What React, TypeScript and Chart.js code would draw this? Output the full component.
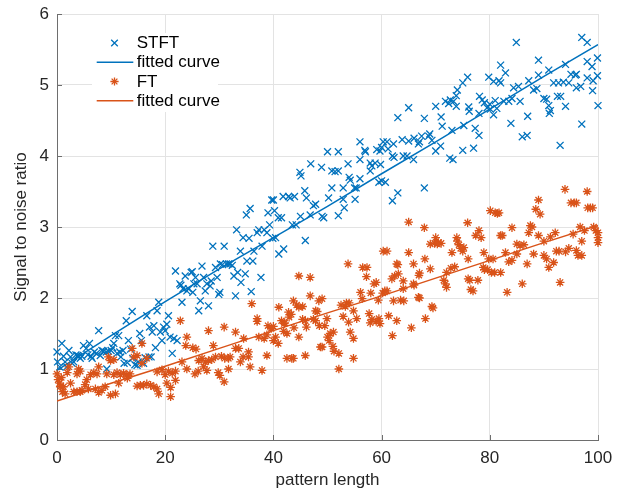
import React, { useEffect, useRef } from 'react';
import { Chart, registerables } from 'chart.js';

Chart.register(...registerables);

const BLUE = '#0072BD';
const ORANGE = '#D95319';
const AXIS_TEXT = '#262626';
const FONT = '"Liberation Sans", Arial, Helvetica, sans-serif';

const xTicks = [0, 20, 40, 60, 80, 100];
const yTicks = [0, 1, 2, 3, 4, 5, 6];
const xTitle = 'pattern length';
const yTitle = 'Signal to noise ratio';
const legendLabels = ['STFT', 'fitted curve', 'FT', 'fitted curve'];

// STFT measurements (pattern length, SNR)
const stftPoints: [number, number][] = [
  [0.0, 1.24], [0.1, 1.10], [0.5, 1.03], [0.9, 1.36], [1.2, 1.18], [1.5, 1.10], [1.8, 1.03], [2.2, 1.26],
  [2.5, 1.17], [2.8, 1.08], [3.1, 1.10], [3.5, 1.20], [3.8, 1.19], [4.0, 1.18], [4.3, 1.15], [4.6, 1.18],
  [4.9, 1.33], [5.4, 1.29], [5.7, 1.20], [6.0, 1.36], [6.3, 1.18], [6.5, 1.15], [6.9, 1.24], [7.3, 1.22],
  [7.7, 1.54], [8.0, 1.19], [8.3, 1.26], [8.6, 1.25], [9.1, 1.24], [9.2, 1.00], [9.5, 1.25], [10.0, 1.26],
  [10.3, 1.30], [10.5, 1.36], [10.8, 1.47], [11.1, 1.22], [11.4, 1.47], [11.6, 1.24], [11.8, 1.17], [12.2, 1.26],
  [12.4, 1.08], [12.8, 1.68], [13.0, 1.09], [13.2, 1.40], [13.6, 1.28], [13.9, 1.81], [14.0, 1.15], [14.4, 1.06],
  [14.8, 1.05], [15.0, 1.10], [15.3, 1.50], [15.6, 1.40], [16.0, 1.08], [16.3, 1.16], [16.6, 1.75], [17.0, 1.17],
  [17.1, 1.59], [17.4, 1.17], [17.6, 1.52], [17.9, 1.61], [18.2, 1.30], [18.5, 1.82], [18.8, 1.94], [19.1, 1.52],
  [19.4, 1.40], [19.7, 1.59], [20.0, 1.54],
  [20.3, 1.63], [20.6, 1.75], [20.9, 1.45], [21.3, 1.22], [21.6, 1.43], [21.9, 2.38], [22.2, 1.40], [22.7, 2.20],
  [22.9, 2.18], [23.1, 1.94], [23.3, 2.13], [23.7, 2.31], [24.0, 2.10], [24.3, 2.13], [24.8, 2.36], [25.0, 2.37],
  [25.1, 2.08], [25.3, 2.20], [25.6, 2.29], [25.9, 2.20], [26.2, 1.82], [26.5, 1.96], [26.8, 2.45], [27.1, 2.29],
  [27.4, 2.10], [27.7, 2.20], [28.0, 1.89], [28.3, 2.17], [28.5, 2.24], [28.8, 2.73], [29.3, 2.43], [29.6, 2.29],
  [29.9, 2.05], [30.1, 2.08], [30.2, 2.48], [30.6, 2.47], [30.9, 2.73], [31.3, 2.48], [31.7, 2.48], [32.0, 2.48],
  [32.4, 2.46], [32.7, 2.31], [33.0, 2.03], [33.2, 2.96], [33.4, 2.36], [33.9, 2.66], [34.0, 2.22], [34.4, 2.85],
  [34.8, 2.34], [35.0, 3.17], [35.1, 2.52], [35.5, 2.84], [35.7, 3.26], [35.9, 2.09], [36.2, 2.52], [36.4, 2.66],
  [37.0, 2.92], [37.3, 2.96], [37.7, 2.29], [37.9, 2.73], [38.3, 2.96], [38.8, 2.92], [39.0, 3.20], [39.3, 3.03],
  [39.7, 3.38], [39.9, 2.84],
  [40.0, 3.38], [40.2, 3.23], [40.4, 2.85], [40.9, 3.13], [41.0, 2.62], [41.5, 3.13], [41.9, 2.69], [41.8, 3.43],
  [42.8, 3.43], [43.1, 3.41], [43.5, 3.03], [43.9, 3.43], [44.2, 3.03], [45.0, 3.15], [44.9, 3.77], [45.1, 3.72],
  [45.8, 3.51], [45.9, 2.81], [46.1, 3.41], [46.8, 3.17], [46.9, 3.89], [47.4, 3.30], [47.8, 3.32], [48.9, 3.84],
  [49.0, 3.15], [49.3, 3.13], [50.0, 4.06], [50.2, 3.41], [50.8, 3.55], [50.8, 3.79], [51.4, 3.78], [52.0, 3.79],
  [52.0, 4.06], [52.0, 3.16], [52.9, 3.55], [52.9, 3.39], [53.1, 3.27], [53.8, 3.89], [54.0, 3.70], [54.2, 3.66],
  [55.0, 3.55], [55.1, 3.39], [55.3, 3.55], [56.0, 3.95], [56.0, 3.68], [56.0, 4.20], [56.9, 4.08], [57.0, 4.06],
  [57.9, 3.79], [57.9, 3.90], [58.2, 3.86], [58.8, 3.90], [59.1, 4.09], [59.5, 3.63], [59.7, 4.07], [60.0, 3.65],
  [60.3, 4.20],
  [59.8, 3.88], [60.0, 4.12], [60.7, 3.63], [61.0, 4.20], [61.2, 4.10], [62.0, 3.37], [62.0, 4.00], [62.3, 3.98],
  [62.2, 4.17], [63.0, 4.54], [63.0, 3.48], [63.8, 4.23], [64.0, 4.00], [64.7, 4.00], [65.0, 4.68], [65.0, 4.21],
  [65.9, 3.95], [66.0, 4.25], [66.8, 4.17], [67.0, 4.20], [67.4, 4.28], [67.9, 4.53], [67.9, 3.55], [68.7, 4.28],
  [68.9, 4.31], [69.3, 4.22], [70.0, 4.70], [70.0, 4.07], [70.9, 4.14], [71.0, 4.55], [71.2, 4.42], [71.8, 4.77],
  [72.4, 4.74], [72.6, 3.97], [72.7, 4.79], [73.0, 4.36], [73.2, 3.95], [73.3, 4.77], [73.8, 4.85], [73.8, 4.70],
  [74.0, 4.93], [75.0, 5.03], [75.0, 4.08], [75.2, 4.43], [75.9, 5.11], [76.1, 4.69], [76.2, 4.63], [77.0, 4.11],
  [77.3, 4.39], [78.0, 4.60], [78.0, 4.29], [78.1, 4.84], [78.6, 4.79], [79.0, 4.75], [79.5, 4.68], [79.8, 5.11],
  [80.0, 4.73],
  [80.1, 4.66], [80.7, 5.05], [80.7, 4.58], [81.0, 4.78], [81.3, 4.67], [81.7, 5.06], [82.0, 5.28], [82.0, 5.03],
  [82.6, 4.77], [82.9, 5.17], [83.5, 4.77], [83.9, 4.46], [84.1, 4.81], [84.4, 4.96], [84.9, 5.60], [85.3, 4.98],
  [85.6, 4.77], [86.0, 4.27], [86.9, 4.29], [87.0, 4.56], [87.2, 5.06], [88.1, 4.93], [88.7, 4.95], [89.0, 5.35],
  [89.0, 5.14], [90.0, 4.81], [90.5, 4.80], [90.9, 5.21], [90.9, 4.71], [91.2, 4.64], [91.0, 4.60], [91.8, 5.03],
  [92.5, 4.84], [92.7, 5.03], [93.1, 4.84], [93.0, 4.15], [93.6, 5.04], [94.0, 5.29], [94.0, 4.70], [94.6, 5.03],
  [95.0, 5.15], [95.8, 5.14], [96.0, 5.15], [96.0, 4.96], [96.8, 4.98], [97.0, 4.45], [97.0, 5.67], [98.0, 5.33],
  [98.0, 5.10], [98.0, 5.60], [98.9, 5.26], [99.0, 4.92], [99.1, 5.06], [99.9, 5.38], [99.9, 5.13], [100.0, 4.71],
];

// FT measurements (pattern length, SNR)
const ftPoints: [number, number][] = [
  [0.0, 0.93], [0.2, 0.85], [0.5, 0.80], [0.6, 0.75], [0.8, 0.88], [1.0, 0.68], [1.2, 0.75], [1.5, 0.65],
  [1.9, 0.95], [2.2, 1.03], [2.5, 0.80], [3.1, 0.68], [3.7, 0.68], [3.7, 0.93], [4.0, 1.00], [4.3, 0.97],
  [4.3, 0.68], [4.6, 0.70], [5.2, 0.78], [5.5, 0.85], [5.8, 0.72], [6.2, 0.92], [6.8, 0.95], [7.4, 0.93],
  [7.1, 0.72], [7.7, 1.03], [7.7, 0.67], [8.3, 0.70], [8.9, 0.75], [9.2, 0.93], [9.5, 1.17], [9.9, 0.63],
  [9.9, 1.12], [10.5, 1.13], [10.5, 0.92], [10.8, 0.65], [11.1, 0.95], [11.4, 0.80], [11.7, 0.92], [12.3, 0.94],
  [13.0, 0.87], [12.9, 0.92], [13.5, 0.93], [13.9, 1.29], [14.2, 1.17], [14.8, 1.19], [14.8, 0.76], [15.4, 0.77],
  [15.7, 1.36], [15.7, 1.08], [16.0, 0.77], [16.6, 0.79], [16.6, 1.15], [17.3, 0.77], [17.9, 0.75], [18.5, 0.96],
  [18.5, 0.72], [18.8, 0.65], [19.4, 0.99], [20.0, 0.92], [20.3, 0.80], [20.6, 0.97], [21.0, 0.61], [21.0, 0.74],
  [21.3, 0.94], [21.9, 0.84], [21.9, 0.97],
  [22.8, 1.68], [23.1, 1.10], [24.0, 1.45], [24.0, 1.00], [23.8, 1.33], [25.1, 1.30], [25.7, 1.28], [25.5, 0.93],
  [26.1, 0.97], [26.2, 1.12], [26.8, 1.15], [27.4, 1.10], [27.1, 1.03], [28.0, 1.54], [28.0, 1.12], [27.7, 0.98],
  [28.6, 1.13], [28.9, 1.33], [29.3, 1.17], [29.8, 0.95], [30.1, 0.91], [30.4, 1.18], [30.9, 1.59], [30.9, 0.82],
  [31.0, 1.15], [31.7, 1.15], [31.7, 1.00], [32.0, 1.17], [33.0, 1.29], [33.0, 1.52], [33.6, 1.29], [33.9, 1.10],
  [34.5, 1.43], [34.4, 1.17], [35.4, 1.17], [35.4, 1.24], [35.7, 1.03], [36.0, 1.92], [37.0, 1.71], [37.0, 1.67],
  [37.3, 1.45], [37.9, 0.98], [38.3, 1.43], [38.8, 1.19], [38.8, 1.48], [39.0, 1.61], [39.6, 1.57], [40.0, 1.40],
  [40.0, 1.60], [40.4, 1.45], [40.9, 1.36], [41.0, 1.87], [41.5, 1.68], [41.9, 1.53], [42.0, 1.64], [42.1, 1.65],
  [42.5, 1.15], [42.5, 1.50], [42.8, 1.80], [42.9, 1.73], [43.3, 1.77], [43.4, 1.15], [43.7, 1.96], [43.7, 1.15],
  [43.8, 1.58], [44.3, 1.90], [44.7, 1.87], [44.7, 1.45], [44.7, 2.31], [45.4, 1.88], [45.4, 1.70], [45.9, 1.19],
  [45.9, 1.68], [46.1, 1.59], [46.8, 2.29], [46.8, 2.03], [47.4, 1.70], [47.8, 1.82], [47.8, 1.68], [48.1, 1.81],
  [48.4, 1.96], [48.5, 1.61], [48.7, 1.31], [49.0, 1.99], [49.0, 1.31], [49.5, 1.61], [49.9, 1.71], [50.0, 1.45],
  [50.3, 1.40], [50.5, 1.50], [51.0, 1.32], [51.1, 1.52], [51.2, 1.25], [52.1, 1.22], [52.1, 1.00], [52.5, 1.90],
  [52.9, 1.74], [53.3, 1.88], [53.5, 1.93], [53.8, 2.48], [53.9, 1.66], [54.0, 1.93], [54.2, 1.52], [54.8, 1.82],
  [54.8, 1.43], [54.8, 1.15], [55.4, 1.71], [56.1, 2.08], [56.4, 1.99], [56.5, 2.43], [57.2, 2.30], [57.3, 2.43],
  [57.7, 1.78], [57.9, 1.65], [58.0, 2.07], [58.2, 1.70], [58.6, 2.20], [59.0, 2.22], [59.0, 1.67], [59.4, 1.97],
  [59.5, 1.71], [59.7, 1.64], [60.3, 2.66],
  [60.2, 2.07], [60.6, 2.10], [61.0, 2.66], [61.0, 2.10], [61.3, 1.75], [61.9, 2.27], [62.0, 1.47], [62.2, 1.96],
  [62.4, 2.31], [62.8, 2.48], [62.8, 1.68], [63.0, 2.47], [63.1, 2.34], [63.5, 1.97], [64.0, 2.24], [64.0, 2.13],
  [64.1, 1.96], [65.0, 2.64], [65.0, 3.07], [65.5, 1.58], [65.9, 2.48], [65.9, 2.20], [66.0, 2.18], [66.8, 2.01],
  [66.9, 2.32], [67.0, 2.35], [67.0, 2.00], [67.9, 2.99], [68.0, 2.55], [68.1, 1.71], [69.0, 2.41], [69.0, 2.76],
  [69.3, 1.88], [69.5, 1.86], [69.8, 2.77], [70.0, 2.85], [70.3, 2.76], [70.5, 2.78], [71.0, 2.77], [71.5, 2.25],
  [71.8, 2.20], [72.0, 2.15], [72.0, 2.36], [72.8, 2.42], [73.0, 2.64], [73.5, 2.44], [73.9, 2.85], [74.0, 2.80],
  [74.3, 2.75], [74.6, 2.70], [75.0, 2.66], [75.2, 2.71], [75.9, 3.06], [76.0, 2.27], [76.0, 2.55], [76.3, 2.25],
  [76.5, 2.12], [76.9, 2.10], [77.4, 2.88], [77.8, 2.25], [78.0, 2.95], [78.4, 2.85], [78.8, 2.43], [78.9, 2.64],
  [79.0, 2.40], [79.6, 2.40], [79.8, 2.55], [80.1, 3.23],
  [80.3, 2.36], [80.6, 2.55], [80.9, 2.36], [81.0, 3.20], [81.4, 3.19], [81.7, 3.20], [82.0, 2.88], [82.3, 2.88],
  [82.0, 2.36], [82.9, 2.64], [83.2, 2.08], [83.5, 2.51], [84.1, 2.99], [84.1, 2.53], [85.0, 2.76], [85.0, 2.62],
  [85.6, 2.74], [86.0, 2.20], [86.3, 2.75], [86.9, 2.48], [87.2, 2.92], [87.5, 3.02], [87.8, 3.00], [88.1, 2.62],
  [88.5, 3.25], [89.0, 3.38], [89.0, 2.88], [89.3, 3.18], [90.0, 2.80], [90.0, 2.60], [90.5, 2.55], [90.9, 2.43],
  [91.2, 2.86], [91.8, 2.50], [92.1, 2.92], [92.3, 2.66], [92.8, 2.66], [93.0, 2.22], [93.9, 3.53], [94.0, 2.65],
  [94.6, 2.70], [95.0, 3.34], [95.4, 2.90], [95.6, 3.34], [96.0, 2.67], [96.0, 3.34], [96.3, 2.60], [96.7, 3.00],
  [97.0, 2.80], [97.0, 2.60], [97.5, 2.95], [98.0, 3.50], [98.1, 3.27], [98.6, 3.27], [99.0, 3.27], [99.2, 3.00],
  [99.6, 2.95], [100.0, 2.85], [100.0, 2.92], [100.0, 2.78],
];

// fitted curves sampled along pattern length
const fitX = [0, 10, 20, 30, 40, 50, 60, 70, 80, 90, 100];
const stftFit = [0.98, 1.47, 1.95, 2.41, 2.85, 3.29, 3.75, 4.20, 4.66, 5.12, 5.57];
const ftFit = [0.55, 0.80, 1.04, 1.29, 1.54, 1.79, 2.03, 2.28, 2.53, 2.78, 3.02];

const toXY = (pts: [number, number][]) => pts.map(([x, y]) => ({ x, y }));
const fitXY = (ys: number[]) => fitX.map((x, i) => ({ x, y: ys[i] }));

const inwardTicks = {
  id: 'inwardTicks',
  beforeDatasetsDraw(chart: any) {
    const { ctx, chartArea } = chart;
    const xs = chart.scales.x;
    const ys = chart.scales.y;
    ctx.save();
    ctx.strokeStyle = '#6e6e6e';
    ctx.lineWidth = 1;
    ctx.beginPath();
    xTicks.forEach((v) => {
      const px = Math.round(xs.getPixelForValue(v)) + 0.5;
      ctx.moveTo(px, chartArea.bottom);
      ctx.lineTo(px, chartArea.bottom - 5);
    });
    yTicks.forEach((v) => {
      const py = Math.round(ys.getPixelForValue(v)) + 0.5;
      ctx.moveTo(chartArea.left, py);
      ctx.lineTo(chartArea.left + 5, py);
    });
    ctx.stroke();
    ctx.restore();
  },
};

const matlabLegend = {
  id: 'matlabLegend',
  afterDatasetsDraw(chart: any) {
    const { ctx, chartArea } = chart;
    const L = chartArea.left;
    const T = chartArea.top;
    ctx.save();
    ctx.fillStyle = '#ffffff';
    ctx.fillRect(L + 35, T + 19, 126, 79);
    const rows = [T + 29, T + 48.3, T + 67.5, T + 86.7];
    const mx = L + 57.5;
    ctx.lineWidth = 1.3;
    ctx.strokeStyle = BLUE;
    ctx.beginPath();
    ctx.moveTo(mx - 3.3, rows[0] - 3.3); ctx.lineTo(mx + 3.3, rows[0] + 3.3);
    ctx.moveTo(mx - 3.3, rows[0] + 3.3); ctx.lineTo(mx + 3.3, rows[0] - 3.3);
    ctx.stroke();
    ctx.lineWidth = 1.5;
    ctx.beginPath();
    ctx.moveTo(L + 39.7, rows[1]); ctx.lineTo(L + 76.3, rows[1]);
    ctx.stroke();
    ctx.strokeStyle = ORANGE;
    ctx.lineWidth = 1.3;
    ctx.beginPath();
    const r = 4.1, d = 2.9;
    ctx.moveTo(mx - r, rows[2]); ctx.lineTo(mx + r, rows[2]);
    ctx.moveTo(mx, rows[2] - r); ctx.lineTo(mx, rows[2] + r);
    ctx.moveTo(mx - d, rows[2] - d); ctx.lineTo(mx + d, rows[2] + d);
    ctx.moveTo(mx - d, rows[2] + d); ctx.lineTo(mx + d, rows[2] - d);
    ctx.stroke();
    ctx.lineWidth = 1.5;
    ctx.beginPath();
    ctx.moveTo(L + 39.7, rows[3]); ctx.lineTo(L + 76.3, rows[3]);
    ctx.stroke();
    ctx.fillStyle = '#000000';
    ctx.font = `17px ${FONT}`;
    ctx.textAlign = 'left';
    ctx.textBaseline = 'middle';
    legendLabels.forEach((t, i) => ctx.fillText(t, L + 79.7, rows[i] + 0.5));
    ctx.restore();
  },
};

export default function App() {
  const canvasRef = useRef<HTMLCanvasElement | null>(null);

  useEffect(() => {
    if (!canvasRef.current) return;
    const chart = new Chart(canvasRef.current, {
      type: 'scatter',
      data: {
        datasets: [
          {
            label: legendLabels[3],
            type: 'line',
            data: fitXY(ftFit),
            borderColor: ORANGE,
            borderWidth: 1.5,
            pointRadius: 0,
            fill: false,
            tension: 0,
            order: 0,
          } as any,
          {
            label: legendLabels[2],
            data: toXY(ftPoints),
            pointStyle: 'star',
            pointRadius: 4.3,
            pointBorderWidth: 1.3,
            borderColor: ORANGE,
            backgroundColor: ORANGE,
            clip: false,
            order: 1,
          } as any,
          {
            label: legendLabels[1],
            type: 'line',
            data: fitXY(stftFit),
            borderColor: BLUE,
            borderWidth: 1.5,
            pointRadius: 0,
            fill: false,
            tension: 0,
            order: 2,
          } as any,
          {
            label: legendLabels[0],
            data: toXY(stftPoints),
            pointStyle: 'crossRot',
            pointRadius: 4.9,
            pointBorderWidth: 1.3,
            borderColor: BLUE,
            backgroundColor: BLUE,
            clip: false,
            order: 3,
          } as any,
        ],
      },
      options: {
        animation: false,
        responsive: false,
        devicePixelRatio: 1,
        layout: { padding: { top: 14, right: 27, left: 0, bottom: 0 } },
        plugins: {
          legend: { display: false },
          tooltip: { enabled: false },
        },
        scales: {
          x: {
            type: 'linear',
            min: 0,
            max: 100,
            afterFit: (s: any) => { s.height = 50; s.paddingLeft = 0; s.paddingRight = 0; s.paddingTop = 0; s.paddingBottom = 0; },
            afterBuildTicks: (s: any) => { s.ticks = xTicks.map((v) => ({ value: v })); },
            ticks: { color: AXIS_TEXT, font: { size: 17, family: FONT }, padding: 8, maxRotation: 0 },
            grid: { color: '#e3e3e3', lineWidth: 1, drawTicks: false },
            border: { display: true, color: '#6e6e6e', width: 1 },
            title: { display: true, text: xTitle, color: AXIS_TEXT, font: { size: 17, family: FONT }, padding: { top: 0, bottom: -1 } },
          },
          y: {
            type: 'linear',
            min: 0,
            max: 6,
            afterFit: (s: any) => { s.width = 57; s.paddingLeft = 0; s.paddingRight = 0; s.paddingTop = 0; s.paddingBottom = 0; },
            afterBuildTicks: (s: any) => { s.ticks = yTicks.map((v) => ({ value: v })); },
            ticks: { color: AXIS_TEXT, font: { size: 17, family: FONT }, padding: 8 },
            grid: { color: '#e3e3e3', lineWidth: 1, drawTicks: false },
            border: { display: true, color: '#6e6e6e', width: 1 },
            title: { display: true, text: yTitle, color: AXIS_TEXT, font: { size: 17, family: FONT }, padding: { top: 11, bottom: 0 } },
          },
        },
      },
      plugins: [inwardTicks, matlabLegend],
    });
    return () => chart.destroy();
  }, []);

  return (
    <div style={{ position: 'absolute', left: 0, top: 0, width: 625, height: 490, background: '#fff' }}>
      <canvas ref={canvasRef} width={625} height={490} style={{ width: 625, height: 490, display: 'block' }} />
    </div>
  );
}
